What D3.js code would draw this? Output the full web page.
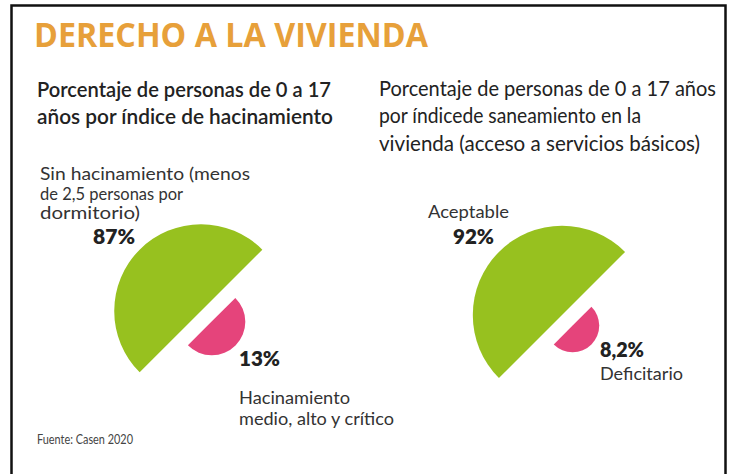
<!DOCTYPE html>
<html>
<head>
<meta charset="utf-8">
<script src="https://cdn.jsdelivr.net/npm/d3@7"></script>
<style>
  body { margin: 0; background: #fff; }
  svg { display: block; }
</style>
</head>
<body>
<svg id="chart" width="732" height="474"></svg>
<script>
// data
var panels = ['hacinamiento', 'saneamiento'];
var mainValues = [87, 92];
var minorValues = [13, 8.2];
var mainPct = ['87%', '92%'];
var minorPct = ['13%', '8,2%'];
var mainNames = [['Sin hacinamiento (menos', 'de 2,5 personas por', 'dormitorio)'], ['Aceptable']];
var minorNames = [['Hacinamiento', 'medio, alto y crítico'], ['Deficitario']];
var subtitles = [
    ['Porcentaje de personas de 0 a 17', 'años por índice de hacinamiento'],
    ['Porcentaje de personas de 0 a 17 años', 'por índicede saneamiento en la', 'vivienda (acceso a servicios básicos)']
];
var title = 'DERECHO A LA VIVIENDA';
var source = 'Fuente: Casen 2020';

var svg = d3.select('#chart'),
    green = '#97c11f',
    pink = '#e5447b',
    font = 'Lato, "Open Sans", sans-serif';

// frame
svg.append('rect')
    .attr('x', 11.5).attr('y', 5.5)
    .attr('width', 714).attr('height', 480)
    .attr('fill', 'none')
    .attr('stroke', '#111')
    .attr('stroke-width', 2.5);

svg.append('text')
    .attr('x', 34).attr('y', 47)
    .attr('font-family', '"Open Sans", sans-serif')
    .attr('font-weight', 700)
    .attr('font-size', 34)
    .attr('textLength', 394)
    .attr('lengthAdjust', 'spacingAndGlyphs')
    .attr('fill', '#e7a03a')
    .text(title);

// subtitles
var subX = [37, 379],
    subY = [[97, 124], [96, 123, 151]],
    subW = [[294, 296], [337, 262, 321]],
    subWeight = [600, 400];

subtitles.forEach(function(lines, p) {
    svg.append('g').selectAll('text')
        .data(lines).enter()
        .append('text')
        .attr('x', subX[p])
        .attr('y', function(d, i) { return subY[p][i]; })
        .attr('font-family', font)
        .attr('font-weight', subWeight[p])
        .attr('font-size', 21)
        .attr('textLength', function(d, i) { return subW[p][i]; })
        .attr('lengthAdjust', 'spacingAndGlyphs')
        .attr('fill', '#222')
        .text(function(d) { return d; });
});

// half discs: area follows the value
var r = d3.scaleSqrt().domain([0, 100]).range([0, 93]);
var arc = d3.arc().innerRadius(0);
var centers = [[201, 311], [562, 315]],
    gap = 15 / Math.SQRT2;

panels.forEach(function(name, p) {
    var g = svg.append('g')
        .attr('class', 'panel-' + name)
        .attr('transform', 'translate(' + centers[p][0] + ',' + centers[p][1] + ')');

    g.append('path')
        .attr('d', arc({outerRadius: r(mainValues[p]), startAngle: -3 * Math.PI / 4, endAngle: Math.PI / 4}))
        .attr('fill', green);

    g.append('path')
        .attr('transform', 'translate(' + gap + ',' + gap + ')')
        .attr('d', arc({outerRadius: r(minorValues[p]), startAngle: Math.PI / 4, endAngle: 5 * Math.PI / 4}))
        .attr('fill', pink);
});

// labels
function lines(x, y0, step, data, widths, size, weight, color) {
    svg.append('g').selectAll('text')
        .data(data).enter()
        .append('text')
        .attr('x', x)
        .attr('y', function(d, i) { return y0 + i * step; })
        .attr('font-family', font)
        .attr('font-weight', weight)
        .attr('font-size', size)
        .attr('textLength', function(d, i) { return widths ? widths[i] : null; })
        .attr('lengthAdjust', 'spacingAndGlyphs')
        .attr('fill', color)
        .text(function(d) { return d; });
}

lines(40, 180, 19.5, mainNames[0], [210, 143, 100], 17, 400, '#333');
lines(93, 244, 0, [mainPct[0]], [42], 20, 800, '#222');
lines(239, 366, 0, [minorPct[0]], [41], 20, 800, '#222');
lines(239, 404, 20.5, minorNames[0], [111, 155], 17, 400, '#333');

lines(428, 218, 0, mainNames[1], [81], 17, 400, '#333');
lines(453, 244, 0, [mainPct[1]], [41], 20, 800, '#222');
lines(600, 357, 0, [minorPct[1]], [44], 20, 800, '#222');
lines(600, 380, 0, minorNames[1], [83], 17, 400, '#333');

lines(37, 444, 0, [source], [96], 13, 400, '#444');
</script>
</body>
</html>
